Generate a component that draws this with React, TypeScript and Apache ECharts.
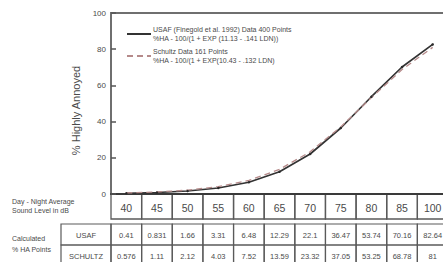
import React, { useEffect, useRef } from "react";
import * as echarts from "echarts";

const categories = ["40", "45", "50", "55", "60", "65", "70", "75", "80", "85", "100"];
const usafValues = [0.41, 0.831, 1.66, 3.31, 6.48, 12.29, 22.1, 36.47, 53.74, 70.16, 82.64];
const schultzValues = [0.576, 1.11, 2.12, 4.03, 7.52, 13.59, 23.32, 37.05, 53.25, 68.78, 81];
const usafLabels = ["0.41", "0.831", "1.66", "3.31", "6.48", "12.29", "22.1", "36.47", "53.74", "70.16", "82.64"];
const schultzLabels = ["0.576", "1.11", "2.12", "4.03", "7.52", "13.59", "23.32", "37.05", "53.25", "68.78", "81"];
const rowNames = ["USAF", "SCHULTZ"];
const usafName = "USAF (Finegold et al. 1992) Data 400 Points\n%HA - 100/(1 + EXP (11.13 - .141 LDN))";
const schultzName = "Schultz Data 161 Points\n%HA - 100/(1 + EXP(10.43 - .132 LDN)";

const FONT = "'Liberation Sans', Arial, sans-serif";
const TEXT = "#4a4a4a";
const BORDER = "#5a5a5a";

export default function App() {
  const ref = useRef<HTMLDivElement>(null);
  useEffect(() => {
    if (!ref.current) return;
    const chart = echarts.init(ref.current, null, { renderer: "svg" });
    const gridLeft = 111;
    const gridTop = 13;
    const gridWidth = 337;
    const gridHeight = 181;
    chart.setOption({
      animation: false,
      backgroundColor: "#ffffff",
      textStyle: { fontFamily: FONT },
      grid: {
        left: gridLeft,
        top: gridTop,
        width: gridWidth,
        height: gridHeight,
        outerBoundsMode: "none",
        containLabel: false,
        show: true,
        borderColor: "#6f6f6f",
        borderWidth: 2,
        backgroundColor: "transparent",
      },
      legend: {
        orient: "vertical",
        left: 121,
        top: 20,
        itemWidth: 24,
        itemHeight: 8,
        itemGap: 4,
        selectedMode: false,
        textStyle: { fontSize: 7, color: TEXT, fontFamily: FONT, lineHeight: 9, padding: [0, 0, 0, -3] },
        data: [
          { name: usafName, itemStyle: { opacity: 0 } },
          { name: schultzName, itemStyle: { opacity: 0 } },
        ],
      },
      xAxis: {
        type: "category",
        data: categories,
        boundaryGap: true,
        axisLine: { show: true, lineStyle: { color: "#3a3a3a", width: 2 } },
        axisTick: { show: false },
        axisLabel: { show: false },
        splitLine: { show: false },
      },
      yAxis: {
        type: "value",
        min: 0,
        max: 100,
        interval: 20,
        name: "% Highly Annoyed",
        nameLocation: "middle",
        nameGap: 27,
        nameTextStyle: { fontSize: 11, color: TEXT, fontFamily: FONT, padding: [0, 14, 0, 0] },
        axisLine: { show: true, lineStyle: { color: "#6f6f6f", width: 2 } },
        axisTick: { show: true, inside: true, length: 5, lineStyle: { color: "#555", width: 1.5 } },
        axisLabel: { fontSize: 8, color: TEXT, margin: 5, fontFamily: FONT },
        splitLine: { show: false },
      },
      series: [
        {
          name: usafName,
          type: "line",
          data: usafValues,
          symbol: "circle",
          symbolSize: 2.5,
          itemStyle: { color: "#2a2a2a" },
          lineStyle: { color: "#333333", width: 1.7 },
        },
        {
          name: schultzName,
          type: "line",
          data: schultzValues,
          symbol: "none",
          itemStyle: { color: "#c08080" },
          lineStyle: { color: "#b58a8a", width: 1.3, type: [6, 4] },
        },
      ],
    });

    const cellW = gridWidth / categories.length;
    const bottom = gridTop + gridHeight;
    const row1Top = bottom;
    const row1H = 25;
    const row2Top = 224;
    const row2H = 21;
    const labelLeft = 61;
    const elements: any[] = [];
    categories.forEach((c, i) => {
      const cx = chart.convertToPixel({ xAxisIndex: 0 }, i) as number;
      const x0 = cx - cellW / 2;
      elements.push({
        type: "rect",
        shape: { x: x0, y: row1Top, width: cellW, height: row1H },
        style: { fill: "none", stroke: BORDER, lineWidth: 1.3 },
      });
      elements.push({
        type: "text",
        x: cx,
        y: row1Top + row1H / 2 + 1,
        style: { text: c, fontSize: 10.5, fill: TEXT, fontFamily: FONT, align: "center", verticalAlign: "middle" },
      });
      [usafLabels, schultzLabels].forEach((vals, r) => {
        const y0 = row2Top + r * row2H;
        elements.push({
          type: "rect",
          shape: { x: x0, y: y0, width: cellW, height: row2H },
          style: { fill: "none", stroke: BORDER, lineWidth: 1.2 },
        });
        elements.push({
          type: "text",
          x: cx,
          y: y0 + row2H / 2 + 1,
          style: { text: vals[i], fontSize: 7.5, fill: TEXT, fontFamily: FONT, align: "center", verticalAlign: "middle" },
        });
      });
    });
    rowNames.forEach((n, r) => {
      const y0 = row2Top + r * row2H;
      elements.push({
        type: "rect",
        shape: { x: labelLeft, y: y0, width: gridLeft - labelLeft, height: row2H },
        style: { fill: "none", stroke: BORDER, lineWidth: 1.2 },
      });
      elements.push({
        type: "text",
        x: (labelLeft + gridLeft) / 2,
        y: y0 + row2H / 2 + 1,
        style: { text: n, fontSize: 7.5, fill: TEXT, fontFamily: FONT, align: "center", verticalAlign: "middle" },
      });
    });
    elements.push({
      type: "text",
      x: 12,
      y: 206,
      style: { text: "Day - Night Average\nSound Level in dB", fontSize: 7, lineHeight: 9.5, fill: TEXT, fontFamily: FONT, align: "left", verticalAlign: "middle" },
    });
    elements.push({
      type: "text",
      x: 12,
      y: 244,
      style: { text: "Calculated\n% HA Points", fontSize: 7, lineHeight: 11, fill: TEXT, fontFamily: FONT, align: "left", verticalAlign: "middle" },
    });
    chart.setOption({ graphic: { elements } });

    return () => chart.dispose();
  }, []);
  return (
    <div
      ref={ref}
      style={{ position: "fixed", left: 0, top: 0, width: 443, height: 262, background: "#fff" }}
    />
  );
}
